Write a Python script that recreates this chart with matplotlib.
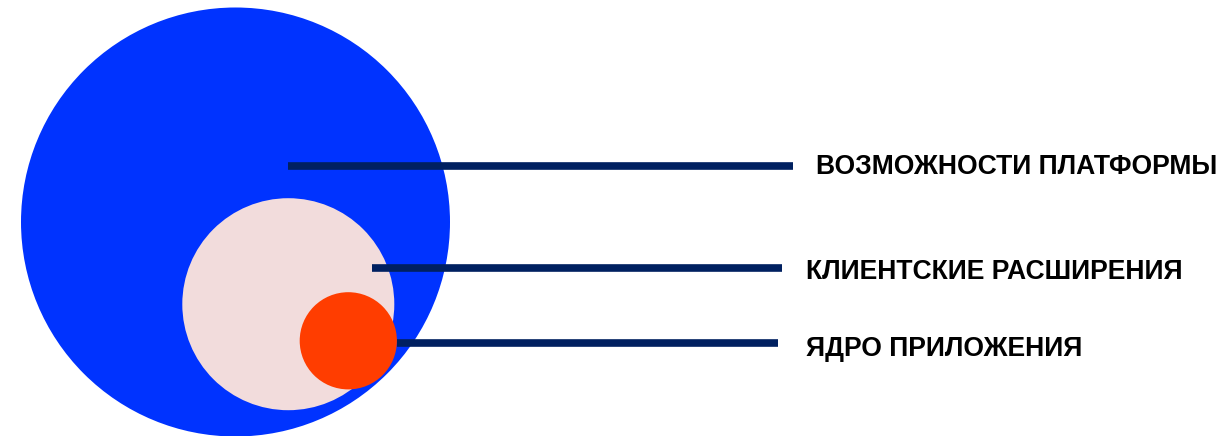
import matplotlib.pyplot as plt
from matplotlib.patches import Circle

plt.rcParams['font.family'] = ['Liberation Sans', 'DejaVu Sans']

# nested circles: centre x, centre y, radius (pixels, y down)
circle_x = [235.5, 288.3, 348.3]
circle_y = [222.0, 304.2, 340.8]
circle_r = [214.5, 106.0, 48.6]
circle_colors = ['#0033FF', '#F2DCDC', '#FF3D00']

# leader lines and labels
line_start = [288, 372, 397]
line_end = [792.5, 782, 778]
line_y = [166, 267.8, 342.8]
labels = ['ВОЗМОЖНОСТИ ПЛАТФОРМЫ', 'КЛИЕНТСКИЕ РАСШИРЕНИЯ', 'ЯДРО ПРИЛОЖЕНИЯ']
label_x = [816, 806.5, 806]
label_y = [166.5, 271.5, 349]

fig = plt.figure(figsize=(12.24, 4.36), dpi=100)
ax = fig.add_axes([0, 0, 1, 1])
ax.set_xlim(0, 1224)
ax.set_ylim(436, 0)
ax.set_aspect('equal')
ax.axis('off')

for i in range(3):
    z = 1 if i < 2 else 3
    ax.add_patch(Circle((circle_x[i], circle_y[i]), circle_r[i],
                        color=circle_colors[i], lw=0, zorder=z + i * 0.1))

for x0, x1, y in zip(line_start, line_end, line_y):
    ax.plot([x0, x1], [y, y], color='#002060', lw=5.5,
            solid_capstyle='butt', zorder=2)

for x, y, t in zip(label_x, label_y, labels):
    ax.text(x, y, t, fontsize=19.1, fontweight='bold', color='black',
            ha='left', va='center')

fig.savefig('out.png', dpi=100)
